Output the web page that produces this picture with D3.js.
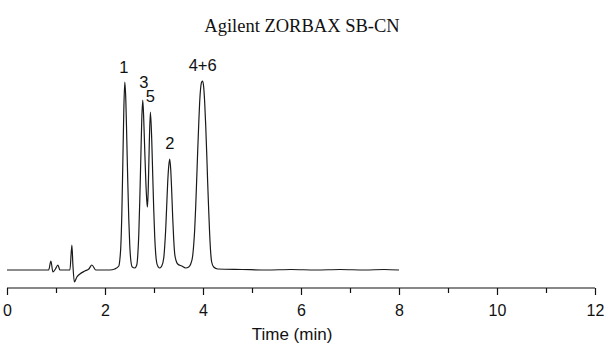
<!DOCTYPE html>
<html>
<head>
<meta charset="utf-8">
<script src="https://cdn.jsdelivr.net/npm/d3@7"></script>
<style>
  html, body { margin: 0; padding: 0; background: #fff; }
  svg { display: block; }
</style>
</head>
<body>
<svg id="chart" width="611" height="350"></svg>
<script>
// ---- Data ----
const title = "Agilent ZORBAX SB-CN";
const xLabel = "Time (min)";
const majorTicks = [0, 2, 4, 6, 8, 10, 12];
const minorTicks = [1, 3, 5, 7, 9, 11];

// retention time (min)
const time = [
  0.00, 0.50, 0.85, 0.896, 0.937, 0.988, 1.039, 1.08, 1.284, 1.324, 1.345, 1.375,
  1.426, 1.487, 1.589, 1.671, 1.732, 1.813, 2.099, 2.20,
  2.282, 2.302, 2.323, 2.343, 2.363, 2.384, 2.404, 2.425, 2.445, 2.465, 2.486, 2.506, 2.526, 2.557, 2.608,
  2.648, 2.669, 2.689, 2.710, 2.730, 2.750, 2.771, 2.791, 2.811, 2.832, 2.852, 2.866,
  2.882, 2.903, 2.927, 2.954, 2.974, 2.995, 3.015, 3.035, 3.056, 3.087, 3.117,
  3.158, 3.199, 3.219, 3.240, 3.260, 3.280, 3.301, 3.321, 3.342, 3.362, 3.382, 3.403, 3.423, 3.453, 3.484,
  3.566, 3.647, 3.708, 3.749, 3.789, 3.810, 3.830, 3.850, 3.871, 3.891, 3.912, 3.932, 3.952, 3.973, 3.993,
  4.014, 4.034, 4.055, 4.075, 4.095, 4.116, 4.136, 4.156, 4.177, 4.218, 4.299,
  4.80, 5.30, 5.80, 6.30, 6.80, 7.30, 7.70, 8.00
];
// detector signal (arbitrary units)
const signal = [
  0, 0, 0, 9, -2, 1, 5, 0, 0, 25, 5, -12,
  -7, -4, -1, 1, 5, 0, 0, 1,
  4, 10, 24, 55, 105, 160, 188, 170, 130, 88, 50, 24, 10, 3, 2,
  5, 15, 35, 70, 110, 150, 170, 150, 120, 90, 70, 63,
  80, 125, 158, 130, 95, 60, 33, 16, 7, 3, 2,
  4, 12, 24, 42, 65, 88, 104, 111, 100, 78, 52, 30, 16, 9, 6,
  4, 2, 3, 6, 14, 25, 40, 62, 90, 118, 145, 168, 182, 188, 189,
  183, 168, 145, 118, 88, 60, 36, 18, 8, 3, 1,
  0.5, 0, 0.5, 0, 0.5, 0, 0.5, 0
];

// peak labels
const peakNames = ["1", "3", "5", "2", "4+6"];
const peakTimes = [2.404, 2.771, 2.927, 3.321, 3.993];
const peakHeights = [188, 170, 158, 111, 189];

// ---- Drawing ----
const svg = d3.select("#chart");
const x = d3.scaleLinear().domain([0, 12]).range([7, 595]);
const y = d3.scaleLinear().domain([0, 190]).range([270, 80]);

const pts = time.map((t, i) => [t, signal[i]]);

// title
svg.append("text")
  .attr("x", 302).attr("y", 32)
  .attr("text-anchor", "middle")
  .attr("font-family", "'Liberation Serif', 'Times New Roman', serif")
  .attr("font-size", 18.5)
  .attr("fill", "#111")
  .text(title);

// trace
const line = d3.line()
  .x(d => x(d[0]))
  .y(d => y(d[1]))
  .curve(d3.curveMonotoneX);

svg.append("path")
  .datum(pts)
  .attr("fill", "none")
  .attr("stroke", "#1a1a1a")
  .attr("stroke-width", 1.2)
  .attr("stroke-linejoin", "round")
  .attr("d", line);

// peak labels
const labelDy = [-9, -12, -10, -10, -10];
const labelDx = [-1, 1, 0, 0, 0];
svg.append("g").selectAll("text")
  .data(peakNames)
  .join("text")
  .attr("x", (d, i) => x(peakTimes[i]) + labelDx[i])
  .attr("y", (d, i) => y(peakHeights[i]) + labelDy[i])
  .attr("text-anchor", "middle")
  .attr("font-family", "'Liberation Sans', Arial, sans-serif")
  .attr("font-size", 16.5)
  .attr("fill", "#111")
  .text(d => d);

// x axis
const axisY = 288;
const gAxis = svg.append("g").attr("transform", `translate(0,${axisY})`);
gAxis.call(d3.axisBottom(x).tickValues(majorTicks).tickSize(7).tickPadding(10).tickFormat(d3.format("d")));
gAxis.select(".domain").attr("stroke", "#111").attr("stroke-width", 1.2).attr("d", `M${x(0)},0H${x(12)}`);
gAxis.selectAll(".tick line").attr("stroke", "#111").attr("stroke-width", 1.2);
gAxis.selectAll(".tick text")
  .attr("font-family", "'Liberation Sans', Arial, sans-serif")
  .attr("font-size", 16)
  .attr("fill", "#111");

const gMinor = svg.append("g").attr("transform", `translate(0,${axisY})`);
gMinor.call(d3.axisBottom(x).tickValues(minorTicks).tickSize(5).tickFormat(""));
gMinor.select(".domain").remove();
gMinor.selectAll(".tick line").attr("stroke", "#111").attr("stroke-width", 1.2);

// x label
svg.append("text")
  .attr("x", 292).attr("y", 340)
  .attr("text-anchor", "middle")
  .attr("font-family", "'Liberation Sans', Arial, sans-serif")
  .attr("font-size", 17)
  .attr("fill", "#111")
  .text(xLabel);
</script>
</body>
</html>
